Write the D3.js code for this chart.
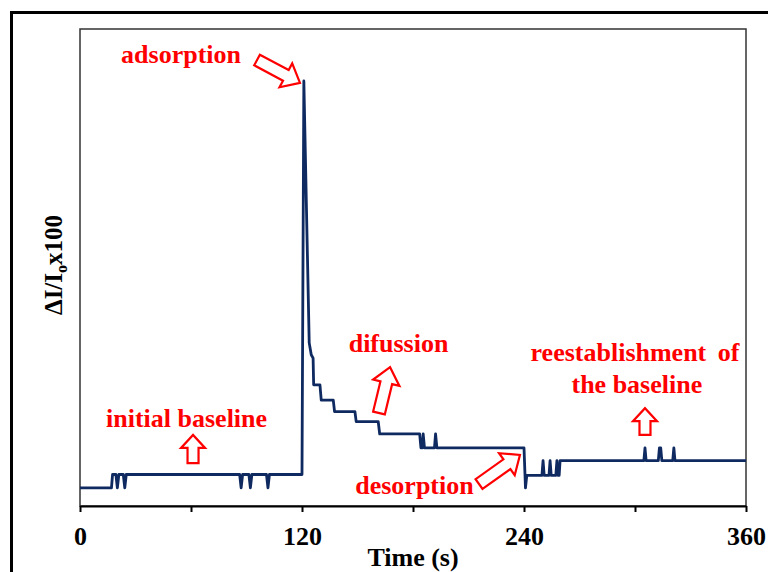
<!DOCTYPE html>
<html>
<head>
<meta charset="utf-8">
<script src="https://cdn.jsdelivr.net/npm/d3@7"></script>
<style>
  html, body { margin: 0; padding: 0; background: #fff; }
  svg { display: block; }
  text { font-family: "Liberation Serif", "Times New Roman", serif; font-weight: bold; }
</style>
</head>
<body>
<svg id="chart" width="768" height="572"></svg>
<script>
// ---- Data ----
const timeS = [0, 17.0, 17.6, 19.4, 20.2, 21.0, 23.4, 24.2, 25.0,
  86.3, 87.1, 87.9, 91.3, 92.1, 92.9, 100.8, 101.6, 102.4,
  120.0, 121.0, 123.9, 125.0, 126.0, 126.3, 129.7, 130.4, 136.9, 137.6,
  148.6, 149.3, 161.2, 162.0, 183.6, 184.3, 185.0, 185.5, 186.2, 191.6, 192.2, 192.9,
  240.0, 240.8, 241.5, 249.7, 250.3, 250.9, 253.5, 254.1, 254.7, 257.2, 257.8, 258.4,
  259.0, 259.5, 304.8, 305.4, 306.0, 312.6, 313.2, 313.9, 314.5, 320.4, 321.0, 321.6, 360];
const signal = [3.8, 3.8, 6.6, 6.6, 3.8, 6.6, 6.6, 3.8, 6.6,
  6.6, 3.8, 6.6, 6.6, 3.8, 6.6, 6.6, 3.8, 6.6,
  6.6, 89.1, 34.2, 31.7, 31.0, 25.4, 25.4, 22.2, 22.2, 19.8,
  19.8, 17.7, 17.7, 15.1, 15.1, 12.2, 12.2, 15.1, 12.2, 12.2, 15.1, 12.2,
  12.2, 3.8, 6.4, 6.4, 9.5, 6.4, 6.4, 9.5, 6.4, 6.4, 9.5, 6.4,
  6.4, 9.5, 9.5, 12.2, 9.5, 9.5, 12.2, 12.2, 9.5, 9.5, 12.2, 9.5, 9.5];
const xTicks = [0, 60, 120, 180, 240, 300, 360];
const xTickLabels = ["0", "", "120", "", "240", "", "360"];
const xTitle = "Time (s)";

// annotations: [text, t, value, extra word spacing]
const notes = [
  ["adsorption", 54.6, 92.9, 0],
  ["initial baseline", 57.6, 16.6, 0],
  ["difussion", 172.2, 32.3, 0],
  ["reestablishment of", 300.0, 30.4, 5],
  ["the baseline", 301.0, 23.7, 0],
  ["desorption", 180.8, 2.5, 0]
];
// arrows: [tailT, tailV, tipT, tipV, size]
const arrows = [
  [95.7, 93.5, 118.9, 88.7, "big"],
  [61.1, 9.0, 61.1, 14.9, "small"],
  [161.6, 19.5, 167.6, 29.1, "big"],
  [305.4, 14.9, 305.4, 20.5, "small"],
  [215.7, 4.6, 237.8, 10.7, "big"]
];

// ---- Layout ----
const svg = d3.select("#chart");
const L = 80, R = 746, T = 29, B = 506;
const x = d3.scaleLinear().domain([0, 360]).range([L, R]);
const y = d3.scaleLinear().domain([0, 100]).range([B, T]);

svg.append("rect").attr("width", 768).attr("height", 572).attr("fill", "#fff");

// outer frame
svg.append("rect").attr("x", 11.5).attr("y", 12.5).attr("width", 820).attr("height", 620)
  .attr("fill", "none").attr("stroke", "#000").attr("stroke-width", 3);

// plot frame
svg.append("rect").attr("x", L).attr("y", T).attr("width", R - L).attr("height", B - T)
  .attr("fill", "none").attr("stroke", "#333").attr("stroke-width", 1.5);

// x axis
const xAxis = d3.axisBottom(x).tickValues(xTicks).tickSizeInner(6).tickSizeOuter(0)
  .tickFormat((d, i) => xTickLabels[i]);
const gx = svg.append("g").attr("transform", `translate(0,${B})`).call(xAxis);
gx.select(".domain").attr("stroke", "#000").attr("stroke-width", 2);
gx.selectAll(".tick line").attr("stroke", "#000").attr("stroke-width", 2);
gx.selectAll(".tick text").attr("fill", "#000").attr("font-size", 26)
  .attr("font-family", "Liberation Serif, Times New Roman, serif")
  .attr("font-weight", "bold").attr("y", 39).attr("dy", 0);

svg.append("text").attr("x", (L + R) / 2).attr("y", 566).attr("text-anchor", "middle")
  .attr("font-size", 26).attr("fill", "#000").text(xTitle);

// y title
const yt = svg.append("text").attr("transform", "translate(62,265) rotate(-90)")
  .attr("text-anchor", "middle").attr("font-size", 25).attr("fill", "#000");
yt.append("tspan").text("ΔI/I");
yt.append("tspan").attr("font-size", 16).attr("dy", 5).text("o");
yt.append("tspan").attr("dy", -5).text("x100");

// signal line
const pts = timeS.map((t, i) => [t, signal[i]]);
svg.append("path").datum(pts)
  .attr("fill", "none").attr("stroke", "#0f2a60").attr("stroke-width", 2.8)
  .attr("stroke-linejoin", "round")
  .attr("d", d3.line().x(d => x(d[0])).y(d => y(d[1])));

// annotation text
svg.selectAll("text.note").data(notes).join("text").attr("class", "note")
  .attr("x", d => x(d[1])).attr("y", d => y(d[2])).attr("text-anchor", "middle")
  .attr("font-size", 26).attr("fill", "#ff0000").attr("word-spacing", d => d[3]).text(d => d[0]);

// block arrows
function arrowPath(a) {
  const x0 = x(a[0]), y0 = y(a[1]), x1 = x(a[2]), y1 = y(a[3]);
  const big = a[4] === "big";
  const ws = big ? 12 : 11, wh = big ? 27 : 24, hl = big ? 16 : 13;
  const dx = x1 - x0, dy = y1 - y0, len = Math.hypot(dx, dy);
  const ux = dx / len, uy = dy / len, nx = -uy, ny = ux;
  const P = (s, w) => [x0 + ux * s + nx * w, y0 + uy * s + ny * w];
  const poly = [P(0, ws / 2), P(len - hl, ws / 2), P(len - hl, wh / 2), P(len, 0),
    P(len - hl, -wh / 2), P(len - hl, -ws / 2), P(0, -ws / 2)];
  return "M" + poly.map(p => p.join(",")).join("L") + "Z";
}
svg.selectAll("path.arrow").data(arrows).join("path").attr("class", "arrow")
  .attr("d", arrowPath).attr("fill", "#fff").attr("stroke", "#ff0000")
  .attr("stroke-width", 2.2).attr("stroke-linejoin", "miter");
</script>
</body>
</html>
